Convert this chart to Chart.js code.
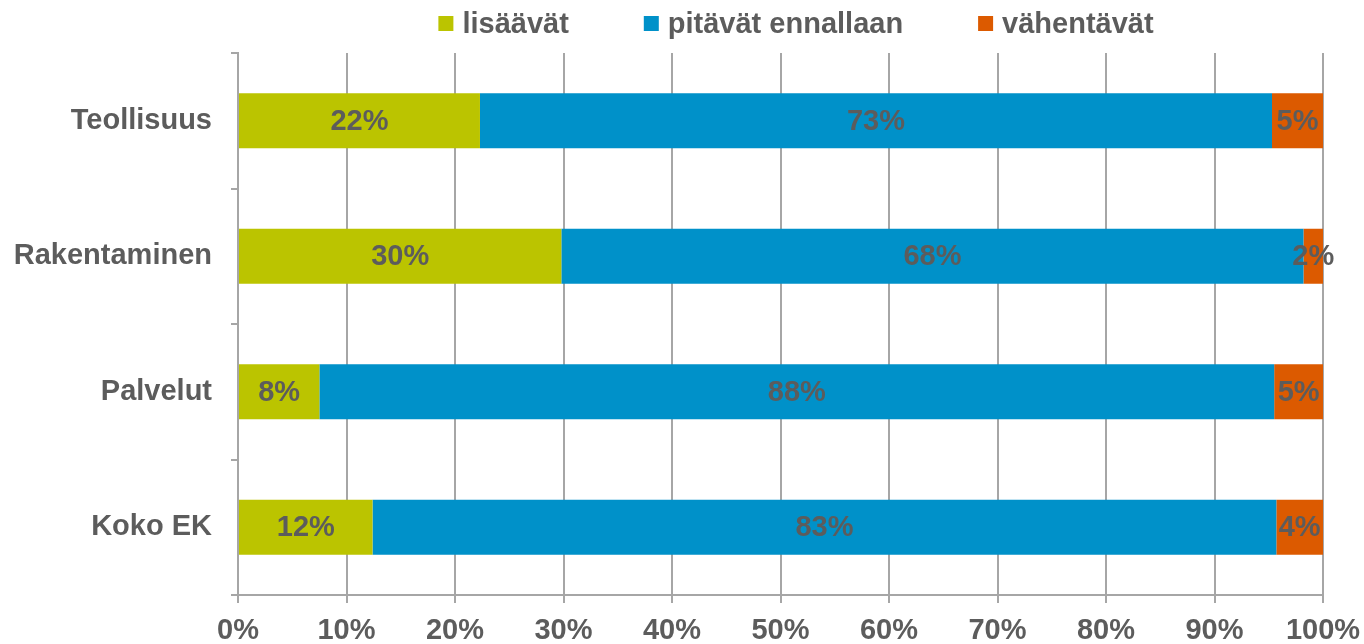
<!DOCTYPE html>
<html>
<head>
<meta charset="utf-8">
<script src="https://cdn.jsdelivr.net/npm/chart.js@4/dist/chart.umd.min.js"></script>
<style>
  body { margin: 0; background: #fff; }
</style>
</head>
<body>
<canvas id="myChart" width="1364" height="644"></canvas>
<script>
const categories = ['Teollisuus', 'Rakentaminen', 'Palvelut', 'Koko EK'];
const seriesNames = ['lisäävät', 'pitävät ennallaan', 'vähentävät'];
const lisaavat = [22.3, 29.8, 7.5, 12.4];
const ennallaan = [73.0, 68.4, 88.0, 83.3];
const vahentavat = [4.7, 1.8, 4.5, 4.3];
const colors = ['#BBC400', '#0091C9', '#DC5A00'];

const textColor = '#5c5c5c';
const font = "'Liberation Sans', Arial, sans-serif";

// labels on the bar segments
const barLabels = {
    id: 'barLabels',
    afterDatasetsDraw(chart) {
        const ctx = chart.ctx;
        ctx.save();
        ctx.font = 'bold 29px ' + font;
        ctx.fillStyle = textColor;
        ctx.textAlign = 'center';
        ctx.textBaseline = 'middle';
        chart.data.datasets.forEach((ds, i) => {
            chart.getDatasetMeta(i).data.forEach((el, j) => {
                const x = (el.x + el.base) / 2;
                ctx.fillText(Math.round(ds.data[j]) + '%', x, el.y + 1);
            });
        });
        ctx.restore();
    }
};

// legend drawn by hand so the spacing matches
const topLegend = {
    id: 'topLegend',
    afterDraw(chart) {
        const ctx = chart.ctx;
        ctx.save();
        ctx.font = 'bold 29px ' + font;
        ctx.textBaseline = 'middle';
        const box = 15, gap = 9, space = 75;
        const widths = chart.data.datasets.map(ds => ctx.measureText(ds.label).width);
        let total = widths.reduce((a, b) => a + b, 0) + chart.data.datasets.length * (box + gap) + space * (widths.length - 1);
        let x = 796 - total / 2;
        const y = 23.5;
        chart.data.datasets.forEach((ds, i) => {
            ctx.fillStyle = ds.backgroundColor;
            ctx.fillRect(x, y - box / 2, box, box);
            ctx.fillStyle = textColor;
            ctx.fillText(ds.label, x + box + gap, y + 1);
            x += box + gap + widths[i] + space;
        });
        ctx.restore();
    }
};

const ctx = document.getElementById('myChart').getContext('2d');
new Chart(ctx, {
    type: 'bar',
    data: {
        labels: categories,
        datasets: [
            { label: seriesNames[0], data: lisaavat, backgroundColor: colors[0] },
            { label: seriesNames[1], data: ennallaan, backgroundColor: colors[1] },
            { label: seriesNames[2], data: vahentavat, backgroundColor: colors[2] },
        ]
    },
    options: {
        indexAxis: 'y',
        responsive: false,
        animation: false,
        categoryPercentage: 1,
        barPercentage: 0.405,
        layout: {
            padding: { top: 53, left: 13, right: 41, bottom: 0 }
        },
        plugins: {
            legend: { display: false },
            tooltip: { enabled: false }
        },
        scales: {
            x: {
                stacked: true,
                min: 0,
                max: 100,
                afterFit: s => { s.height = 49; s.paddingLeft = 0; s.paddingRight = 0; },
                ticks: {
                    stepSize: 10,
                    color: textColor,
                    font: { family: font, size: 29, weight: 'bold' },
                    padding: 11,
                    maxRotation: 0,
                    callback: v => v + '%'
                },
                grid: { color: '#a6a6a6', lineWidth: 2, tickLength: 8 },
                border: { color: '#a6a6a6', width: 2 }
            },
            y: {
                stacked: true,
                afterFit: s => { s.width = 225; },
                ticks: {
                    color: textColor,
                    font: { family: font, size: 29, weight: 'bold' },
                    padding: 19
                },
                grid: { color: '#a6a6a6', lineWidth: 2, drawOnChartArea: false, tickLength: 7, offset: true },
                border: { color: '#a6a6a6', width: 2 }
            }
        }
    },
    plugins: [barLabels, topLegend]
});
</script>
</body>
</html>
